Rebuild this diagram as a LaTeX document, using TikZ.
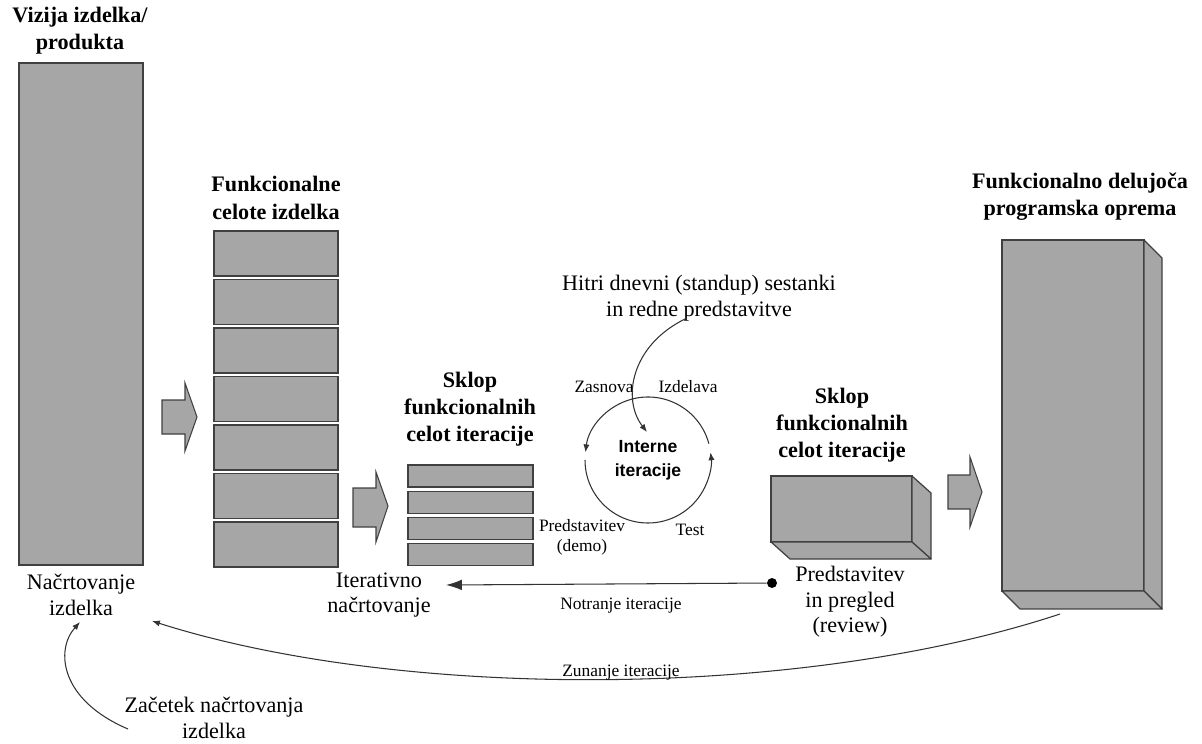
\documentclass[tikz,border=0pt]{standalone}
\usepackage{fontspec}
\setmainfont{Liberation Serif}
\newfontfamily\lsans{Liberation Sans}
\usetikzlibrary{arrows.meta,calc}
\definecolor{boxgray}{HTML}{A6A6A6}
\definecolor{edgegray}{HTML}{404040}
\definecolor{linegray}{HTML}{333333}
\begin{document}
\begin{tikzpicture}[x=0.02cm,y=-0.02cm,
  box/.style={draw=edgegray, fill=boxgray, line width=0.7pt, inner sep=0, outer sep=0},
  face/.style={draw=edgegray, fill=boxgray, line width=0.7pt, line join=round},
  blockarrow/.style={draw=edgegray, fill=boxgray, line width=0.6pt, line join=miter},
  title/.style={font=\fontsize{12.6}{15.5}\selectfont\bfseries, align=center, inner sep=0},
  big/.style={font=\fontsize{12.6}{14.6}\selectfont, align=center, inner sep=0},
  small/.style={font=\fontsize{9.9}{11.3}\selectfont, align=center, inner sep=0},
  conn/.style={draw=linegray, line width=0.6pt},
  smalltip/.style={-{Latex[length=4.5pt,width=3.5pt]}},
]
\useasboundingbox (0,0) rectangle (1202,743);

% product vision
\node[box, minimum width=2.48cm, minimum height=10.04cm] (vis) at (81,314) {};
\node[title] (vistitle) at (80,31) {Vizija izdelka/\\produkta};
\node[big] (plan) at (81,595) {Načrtovanje\\izdelka};

% arrow 1
\draw[blockarrow] (162,400) -- (185,400) -- (185,383) -- (197,417) -- (185,451) -- (185,434) -- (162,434) -- cycle;

% functional units
\node[title] (fctitle) at (276,198) {Funkcionalne\\celote izdelka};
\foreach \i in {0,...,6}
  \node[box, minimum width=2.48cm, minimum height=0.9cm] (fc\i) at (276,{253.5+48.5*\i}) {};

% arrow 2
\draw[blockarrow] (353,488) -- (376,488) -- (376,472) -- (388,506) -- (376,542) -- (376,527) -- (353,527) -- cycle;

% iteration set
\node[title] (sktitle) at (470,409) {Sklop\\funkcionalnih\\celot iteracije};
\foreach \i/\y in {0/476,1/502.5,2/528.5,3/554.5}
  \node[box, minimum width=2.5cm, minimum height=0.44cm] (sc\i) at (470.5,\y) {};
\node[big] (iter) at (379,595) {Iterativno\\načrtovanje};

% internal iteration circle
\coordinate (ctr) at (648,460);
\node[font=\lsans\fontsize{10}{13.6}\selectfont\bfseries, align=center, inner sep=0] (intern) at (ctr) {Interne\\iteracije};
\draw[conn, smalltip] ($(ctr)+(-15:63)$) arc[start angle=-15, end angle=-173, radius=63];
\draw[conn, smalltip] ($(ctr)+(180:63)$) arc[start angle=180, end angle=-7, radius=63];
\node[small] (zasnova) at (604,387) {Zasnova};
\node[small] (izdelava) at (688,387) {Izdelava};
\node[small] (demo) at (582,537) {Predstavitev\\(demo)};
\node[small] (test) at (690,530) {Test};

% standup
\node[big] (standup) at (699,298) {Hitri dnevni (standup) sestanki\\in redne predstavitve};
\coordinate (standupstart) at (687,318);
\coordinate (standupend) at (647,432);
\draw[conn, smalltip] (standupstart) .. controls (630,345) and (622,400) .. (standupend);

% right iteration set (3D box)
\node[title] (sktitle2) at (842,425) {Sklop\\funkcionalnih\\celot iteracije};
\node[box, minimum width=2.82cm, minimum height=1.32cm] (rb) at (841.5,509) {};
\draw[face] (rb.north east) -- ++(19,17) -- ++(0,66) -- (rb.south east) -- cycle;
\draw[face] (rb.south west) -- ++(19,17) -- ++(141,0) -- (rb.south east) -- cycle;
\node[big] (review) at (850,602) {Predstavitev\\in pregled\\(review)};

% arrow 3
\draw[blockarrow] (948,475) -- (970,475) -- (970,457) -- (982,492) -- (970,527) -- (970,509) -- (948,509) -- cycle;

% working software (3D box)
\node[title] (swtitle) at (1080,197) {Funkcionalno delujoča\\programska oprema};
\node[box, minimum width=2.84cm, minimum height=7.02cm] (sw) at (1073,415.5) {};
\draw[face] (sw.north east) -- ++(18,18) -- ++(0,351) -- (sw.south east) -- cycle;
\draw[face] (sw.south west) -- ++(18,18) -- ++(142,0) -- (sw.south east) -- cycle;

% inner iterations arrow
\node[circle, fill=black, inner sep=0, minimum size=0.2cm] (dot) at (772,583) {};
\coordinate (innerend) at (446,585);
\draw[conn, -{Latex[length=9pt,width=6pt]}] (dot) -- (innerend);
\node[small] (notranje) at (621,606) {Notranje iteracije};

% outer iterations arrow
\coordinate (outerstart) at (1060,614);
\coordinate (outerend) at (152,621);
\draw[conn, smalltip] (outerstart) .. controls (800,700) and (400,700) .. (outerend);
\node[small, anchor=base] (zunanje) at (621,676) {Zunanje iteracije};

% start of planning
\node[big] (zacetek) at (214,718) {Začetek načrtovanja\\izdelka};
\coordinate (zacstart) at (128,729);
\coordinate (zacend) at (80,622);
\draw[conn, smalltip] (zacstart) .. controls (60,700) and (55,650) .. (zacend);
\end{tikzpicture}
\end{document}
